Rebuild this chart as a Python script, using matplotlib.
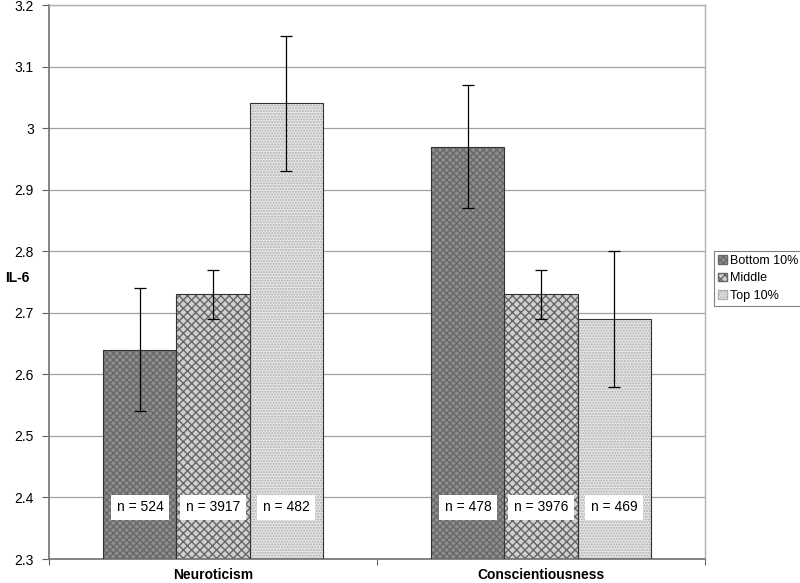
import numpy as np
import matplotlib
matplotlib.use("Agg")
import matplotlib.pyplot as plt
from matplotlib.patches import Patch
from matplotlib.transforms import blended_transform_factory

plt.rcParams['font.family'] = ['Liberation Sans', 'DejaVu Sans']

categories = ["Neuroticism", "Conscientiousness"]
groups = ["Bottom 10%", "Middle", "Top 10%"]
means = {
    "Bottom 10%": [2.64, 2.97],
    "Middle": [2.73, 2.73],
    "Top 10%": [3.04, 2.69],
}
errors = {
    "Bottom 10%": [0.10, 0.10],
    "Middle": [0.04, 0.04],
    "Top 10%": [0.11, 0.11],
}
counts = {
    "Bottom 10%": ["n = 524", "n = 478"],
    "Middle": ["n = 3917", "n = 3976"],
    "Top 10%": ["n = 482", "n = 469"],
}

face = {"Bottom 10%": "#8e8e8e", "Middle": "#d0d0d0", "Top 10%": "#e6e6e6"}
hatch_col = {"Bottom 10%": "#686868", "Middle": "#666666", "Top 10%": "#b0b0b0"}
hatches = {"Bottom 10%": "xxxxx", "Middle": "xxxx", "Top 10%": "......"}

fig = plt.figure(figsize=(8, 5.83), dpi=100)
ax = fig.add_axes([49 / 800, 24 / 583, 656 / 800, 554 / 583])

x = np.arange(len(categories))
w = 0.2226
bottom = 2.3
for i, g in enumerate(groups):
    pos = x + (i - 1) * w
    h = np.array(means[g]) - bottom
    ax.bar(pos, h, w, bottom=bottom, color=face[g], edgecolor=hatch_col[g],
           hatch=hatches[g], linewidth=0, zorder=2)
    ax.bar(pos, h, w, bottom=bottom, fill=False, edgecolor="#333333",
           linewidth=0.8, zorder=3)
    ax.errorbar(pos, means[g], yerr=errors[g], fmt="none", ecolor="black",
                elinewidth=0.9, capsize=4, capthick=0.9, zorder=4)
    for p, t in zip(pos, counts[g]):
        ax.text(p, 2.384, t, ha="center", va="center", fontsize=10, zorder=5,
                bbox=dict(facecolor="white", edgecolor="none", pad=4))

ax.set_ylim(2.3, 3.2)
ax.set_xlim(-0.5, 1.5)
ax.set_yticks(np.arange(2.3, 3.21, 0.1))
ax.set_yticklabels([f"{v:g}" for v in np.round(np.arange(2.3, 3.21, 0.1), 1)], fontsize=10)
ax.yaxis.grid(True, color="#a0a0a0", linewidth=0.9, zorder=0)
ax.set_axisbelow(True)

ax.set_xticks([-0.5, 0.5, 1.5])
ax.set_xticklabels([])
ax.tick_params(axis="x", direction="out", length=4, color="#606060")
ax.tick_params(axis="y", direction="out", length=5, color="#606060", pad=6)
trans = blended_transform_factory(ax.transData, fig.transFigure)
for c, xc in zip(categories, x):
    ax.text(xc, 1 - 575 / 583, c, transform=trans, ha="center",
            va="center", fontsize=10, fontweight="bold")

for s in ["left", "bottom"]:
    ax.spines[s].set_color("#707070")
    ax.spines[s].set_linewidth(1.2)
for s in ["top", "right"]:
    ax.spines[s].set_color("#b0b0b0")
    ax.spines[s].set_linewidth(1.0)

fig.text(17 / 800, 1 - 278 / 583, "IL-6", ha="center", va="center",
         fontsize=10, fontweight="bold")

handles = [Patch(facecolor=face[g], edgecolor=hatch_col[g], hatch=hatches[g]) for g in groups]
leg = fig.legend(handles, groups, loc="upper left", bbox_to_anchor=(714 / 800, 1 - 251 / 583),
                 frameon=True, fancybox=False, fontsize=9, handlelength=0.7,
                 handleheight=0.7, handletextpad=0.25, borderpad=0.3, labelspacing=0.45,
                 borderaxespad=0)
leg.get_frame().set_edgecolor("#606060")
leg.get_frame().set_linewidth(0.8)

fig.savefig("out.png", dpi=100)
